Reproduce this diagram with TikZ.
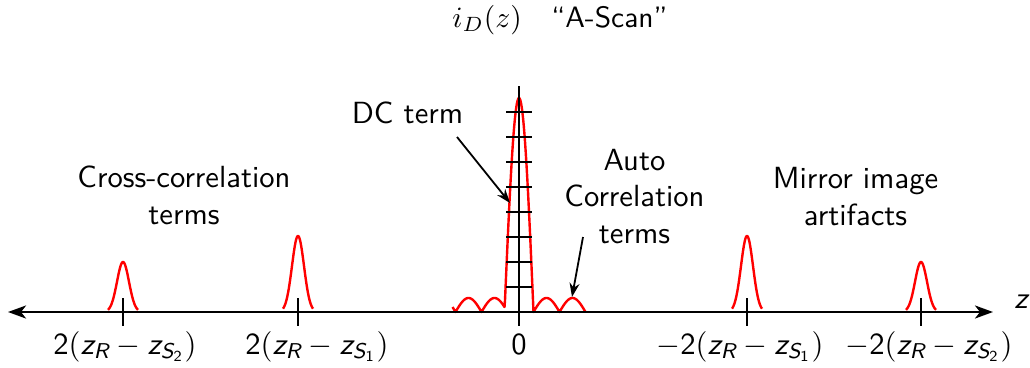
\documentclass[tikz,border=0pt]{standalone}
\usepackage{amsmath}
\usepackage{fontspec}
\usetikzlibrary{arrows.meta}
\newcommand{\sv}[1]{\text{\sffamily\slshape #1}}
\newcommand{\sd}[1]{\text{\sffamily #1}}
\begin{document}
\begin{tikzpicture}[x=1pt,y=-1pt,
  lbl/.style={font=\sffamily\fontsize{10}{11.8}\selectfont, scale=3.06, inner sep=0pt, align=center},
  titlelbl/.style={font=\sffamily, scale=2.95, inner sep=0pt},
  axisline/.style={line width=2.6pt},
  tickmark/.style={line width=1.7pt},
  peak/.style={red, line width=2.4pt, line join=round},
  pointer/.style={line width=1.8pt, -{Stealth[length=14pt,width=10pt]}}]
\useasboundingbox (0,0) rectangle (1030,367);
% red curves
\foreach \c/\h in {123/50, 298/76, 747/76, 921/50}
  \draw[peak] plot[domain=-15:15,samples=61] ({\c+\x},{312-\h*exp(-(\x*\x)/72)});
\draw[peak] plot[domain=-66.5:66.5,samples=267]
  ({519+\x},{312-ifthenelse(abs(\x)<14.5, 214*cos(\x*90/14.5), 14*abs(sin((\x-14.5)*180/26)))});
% axis
\coordinate (lend) at (8,312);
\coordinate (rend) at (993,312);
\draw[axisline, {Stealth[length=18pt,width=13pt,inset=5pt]}-{Stealth[length=18pt,width=13pt,inset=5pt]}] (lend) -- (rend);
\foreach \c in {123,298,747,921}
  \draw[tickmark] (\c,298) -- (\c,326);
\draw[tickmark] (519,86) -- (519,326);
\foreach \y in {112,137,...,287}
  \draw[tickmark] (506,\y) -- (532,\y);
% labels
\node[titlelbl, anchor=base] (title) at (560,27) {$i_D(z)$\quad``A-Scan''};
\node[lbl, anchor=base] (zl) at (1021,308) {$\sv{z}$};
\node[lbl, anchor=base] (dc) at (407.5,123) {DC term};
\node[lbl, anchor=base] (auto) at (634.5,243) {Auto\\Correlation\\terms};
\node[lbl, anchor=base] (cross) at (184,224) {Cross-correlation\\terms};
\node[lbl, anchor=base] (mirror) at (855.5,225) {Mirror image\\artifacts};
\node[lbl, anchor=base] (l1) at (125,354) {$\sd{2}(\sv{z}_{\sv{R}}-\sv{z}_{\sv{S}_{\sd{2}}})$};
\node[lbl, anchor=base] (l2) at (317,354) {$\sd{2}(\sv{z}_{\sv{R}}-\sv{z}_{\sv{S}_{\sd{1}}})$};
\node[lbl, anchor=base] (l0) at (519,354) {0};
\node[lbl, anchor=base] (l3) at (740,354) {$-\sd{2}(\sv{z}_{\sv{R}}-\sv{z}_{\sv{S}_{\sd{1}}})$};
\node[lbl, anchor=base] (l4) at (929,354) {$-\sd{2}(\sv{z}_{\sv{R}}-\sv{z}_{\sv{S}_{\sd{2}}})$};
% pointers
\coordinate (dcs) at (457,137);
\coordinate (dct) at (510,203);
\draw[pointer] (dcs) -- (dct);
\coordinate (acs) at (583,237);
\coordinate (act) at (572,297);
\draw[pointer] (acs) -- (act);
\end{tikzpicture}
\end{document}
